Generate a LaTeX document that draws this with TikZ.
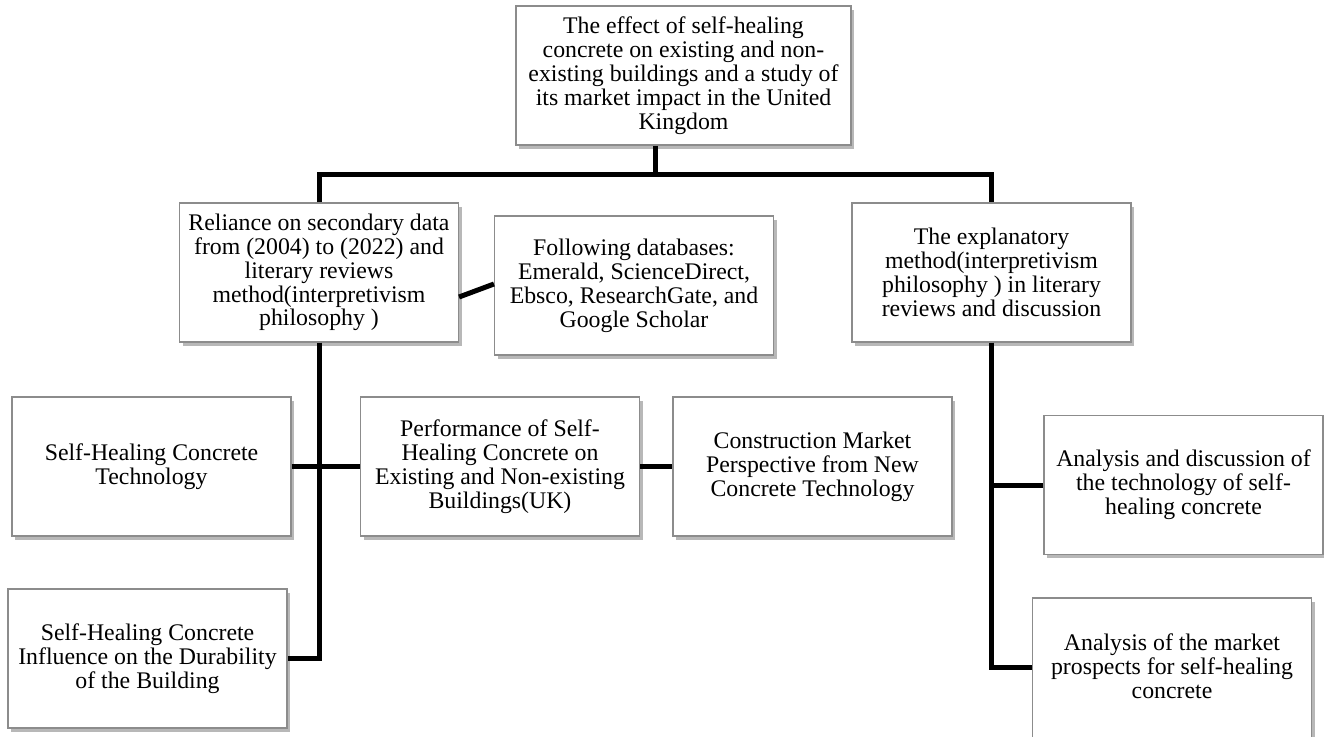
\documentclass[tikz,border=0pt]{standalone}
\usepackage{fontspec}
\setmainfont{Liberation Serif}
\usetikzlibrary{shadows}
\begin{document}
\begin{tikzpicture}[x=1pt,y=-1pt,
  box/.style={draw=black!45, line width=1.1pt, fill=white,
    minimum width=279pt, minimum height=139pt, inner sep=0pt, align=center,
    font=\fontsize{23.8}{23.9}\selectfont,
    drop shadow={shadow xshift=3pt, shadow yshift=-3.5pt, fill=black, opacity=0.28}},
  conn/.style={line width=5pt, draw=black, line join=miter}]
\useasboundingbox (0,0) rectangle (1324,736);

\node[box, minimum width=335pt] (top) at (683.5,75.5) {The effect of self-healing\\concrete on existing and non-\\existing buildings and a study of\\its market impact in the United\\Kingdom};
\node[box] (rel) at (319,272.5) {Reliance on secondary data\\from (2004) to (2022) and\\literary reviews\\method(interpretivism\\philosophy )};
\node[box] (fol) at (634,285.5) {Following databases:\\Emerald, ScienceDirect,\\Ebsco, ResearchGate, and\\Google Scholar};
\node[box] (exp) at (991.5,272.5) {The explanatory\\method(interpretivism\\philosophy ) in literary\\reviews and discussion};
\node[box] (l1) at (151.5,466.5) {Self-Healing Concrete\\Technology};
\node[box] (perf) at (500,466.5) {Performance of Self-\\Healing Concrete on\\Existing and Non-existing\\Buildings(UK)};
\node[box] (con) at (812.5,466.5) {Construction Market\\Perspective from New\\Concrete Technology};
\node[box] (l2) at (147.5,658.5) {Self-Healing Concrete\\Influence on the Durability\\of the Building};
\node[box] (a) at (1183.5,485) {Analysis and discussion of\\the technology of self-\\healing concrete};
\node[box, minimum height=150pt, text depth=14pt] (b) at (1172,673) {Analysis of the market\\prospects for self-healing\\concrete};

\draw[conn] ([xshift=-28.5pt]top.south) -- ++(0,30);
\draw[conn] (rel.north) -- ++(0,-28) -| (exp.north);
\draw[conn] (rel.south) |- (l2.east);
\draw[conn] (l1.east) -- (perf.west);
\draw[conn] (perf.east) -- (con.west);
\draw[conn] ([yshift=-24.5pt]rel.east) -- ([yshift=1.5pt]fol.west);
\draw[conn] (exp.south) |- ([yshift=6pt]b.west);
\draw[conn] (a.west) -- (a.west -| exp.south);
\end{tikzpicture}
\end{document}
